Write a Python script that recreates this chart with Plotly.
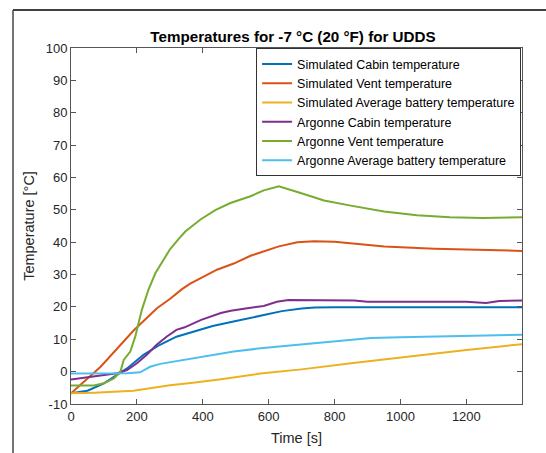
import plotly.graph_objects as go

# ---- data ----
sim_cabin_t = [0, 50, 100, 140, 170, 220, 270, 320, 370, 430, 490, 575, 640, 700, 740, 800, 1000, 1200, 1369]
sim_cabin_T = [-6.7, -5.9, -3.6, -1.0, 1.0, 5.2, 8.3, 10.8, 12.4, 14.1, 15.4, 17.2, 18.7, 19.5, 19.8, 19.9, 19.9, 19.9, 19.9]

sim_vent_t = [0, 90, 190, 261, 301, 337, 362, 403, 443, 494, 545, 575, 631, 687, 738, 800, 849, 951, 1103, 1205, 1369]
sim_vent_T = [-6.7, 1.5, 12.7, 19.6, 22.5, 25.5, 27.2, 29.4, 31.5, 33.4, 35.8, 36.8, 38.7, 40.0, 40.3, 40.1, 39.7, 38.7, 38.0, 37.7, 37.3]

sim_batt_t = [0, 70, 190, 230, 300, 370, 450, 575, 700, 850, 1000, 1200, 1369]
sim_batt_T = [-6.7, -6.5, -5.9, -5.2, -4.2, -3.4, -2.4, -0.6, 0.7, 2.6, 4.4, 6.7, 8.5]

arg_cabin_t = [0, 70, 140, 170, 200, 230, 260, 290, 320, 345, 395, 455, 485, 535, 585, 625, 660, 860, 900, 1000, 1100, 1200, 1260, 1300, 1369]
arg_cabin_T = [-2.4, -1.5, -0.5, 0.5, 2.6, 5.2, 8.3, 10.8, 12.9, 13.7, 16.0, 18.1, 18.8, 19.6, 20.3, 21.6, 22.1, 22.0, 21.6, 21.6, 21.5, 21.6, 21.2, 21.8, 22.0]

arg_vent_t = [0, 70, 100, 130, 150, 160, 180, 195, 215, 235, 256, 281, 301, 327, 347, 393, 438, 484, 545, 585, 631, 697, 768, 849, 950, 1050, 1150, 1250, 1369]
arg_vent_T = [-4.3, -4.3, -3.6, -2.1, 0.0, 3.6, 6.2, 10.8, 19.1, 25.3, 30.4, 34.6, 37.9, 41.0, 43.3, 47.0, 49.9, 52.1, 54.2, 56.0, 57.3, 55.2, 52.9, 51.3, 49.5, 48.3, 47.7, 47.5, 47.7]

arg_batt_t = [0, 100, 170, 210, 240, 271, 332, 393, 433, 494, 575, 697, 839, 910, 1000, 1143, 1369]
arg_batt_T = [-0.6, -0.6, -0.5, -0.2, 1.5, 2.4, 3.4, 4.6, 5.2, 6.2, 7.2, 8.4, 9.6, 10.4, 10.6, 11.0, 11.4]

names = ["Simulated Cabin temperature", "Simulated Vent temperature",
         "Simulated Average battery temperature", "Argonne Cabin temperature",
         "Argonne Vent temperature", "Argonne Average battery temperature"]
colors = ["#0072BD", "#D95319", "#EDB120", "#7E2F8E", "#77AC30", "#4DBEEE"]
series = [(sim_cabin_t, sim_cabin_T), (sim_vent_t, sim_vent_T), (sim_batt_t, sim_batt_T),
          (arg_cabin_t, arg_cabin_T), (arg_vent_t, arg_vent_T), (arg_batt_t, arg_batt_T)]

x_ticks = [0, 200, 400, 600, 800, 1000, 1200]
y_ticks = list(range(-10, 101, 10))
y_tick_labels = [str(v) for v in y_ticks]

FONT = "Liberation Sans, Arial, sans-serif"

fig = go.Figure()
for (t, T), n, c in zip(series, names, colors):
    fig.add_trace(go.Scatter(x=t, y=T, mode="lines", name=n,
                             line=dict(color=c, width=2)))

axis_common = dict(showgrid=False, zeroline=False, showline=True, linecolor="#555555",
                   linewidth=1, mirror="ticks", ticks="inside", ticklen=5, automargin=False,
                   tickcolor="#555555", tickfont=dict(family=FONT, size=13, color="#262626"))

fig.update_layout(
    width=546, height=453,
    margin=dict(l=71, r=24, t=48, b=49),
    paper_bgcolor="white", plot_bgcolor="white",
    font=dict(family=FONT, color="#262626"),
    title=dict(text="Temperatures for -7 °C (20 °F) for UDDS", x=293 / 546, xanchor="center",
               y=1 - 36.5 / 453, yanchor="middle",
               font=dict(family=FONT, size=15.2, color="black", weight="bold")),
    xaxis=dict(range=[0, 1369], tickvals=x_ticks,
               title=dict(text="Time [s]", font=dict(family=FONT, size=14.5, color="#262626"), standoff=10),
               **axis_common),
    yaxis=dict(range=[-10, 100], tickvals=y_ticks, ticktext=y_tick_labels,
               title=dict(text="Temperature [°C]", font=dict(family=FONT, size=14.5, color="#262626"), standoff=7),
               **axis_common),
    legend=dict(x=0.998, y=0.999, xanchor="right", yanchor="top",
                bgcolor="white", bordercolor="#333333", borderwidth=1,
                font=dict(family=FONT, size=12.5, color="black"),
                itemwidth=30, tracegroupgap=0),
    showlegend=True,
)

# outer frame lines of the cropped figure
fig.add_shape(type="line", xref="paper", yref="paper", x0=-0.1286, x1=1.2, y0=1.1067, y1=1.1067,
              line=dict(color="black", width=1.5))
fig.add_shape(type="line", xref="paper", yref="paper", x0=-0.1286, x1=-0.1286, y0=1.1067, y1=-0.2,
              line=dict(color="#444444", width=1.5))

fig.write_html("out.html")
